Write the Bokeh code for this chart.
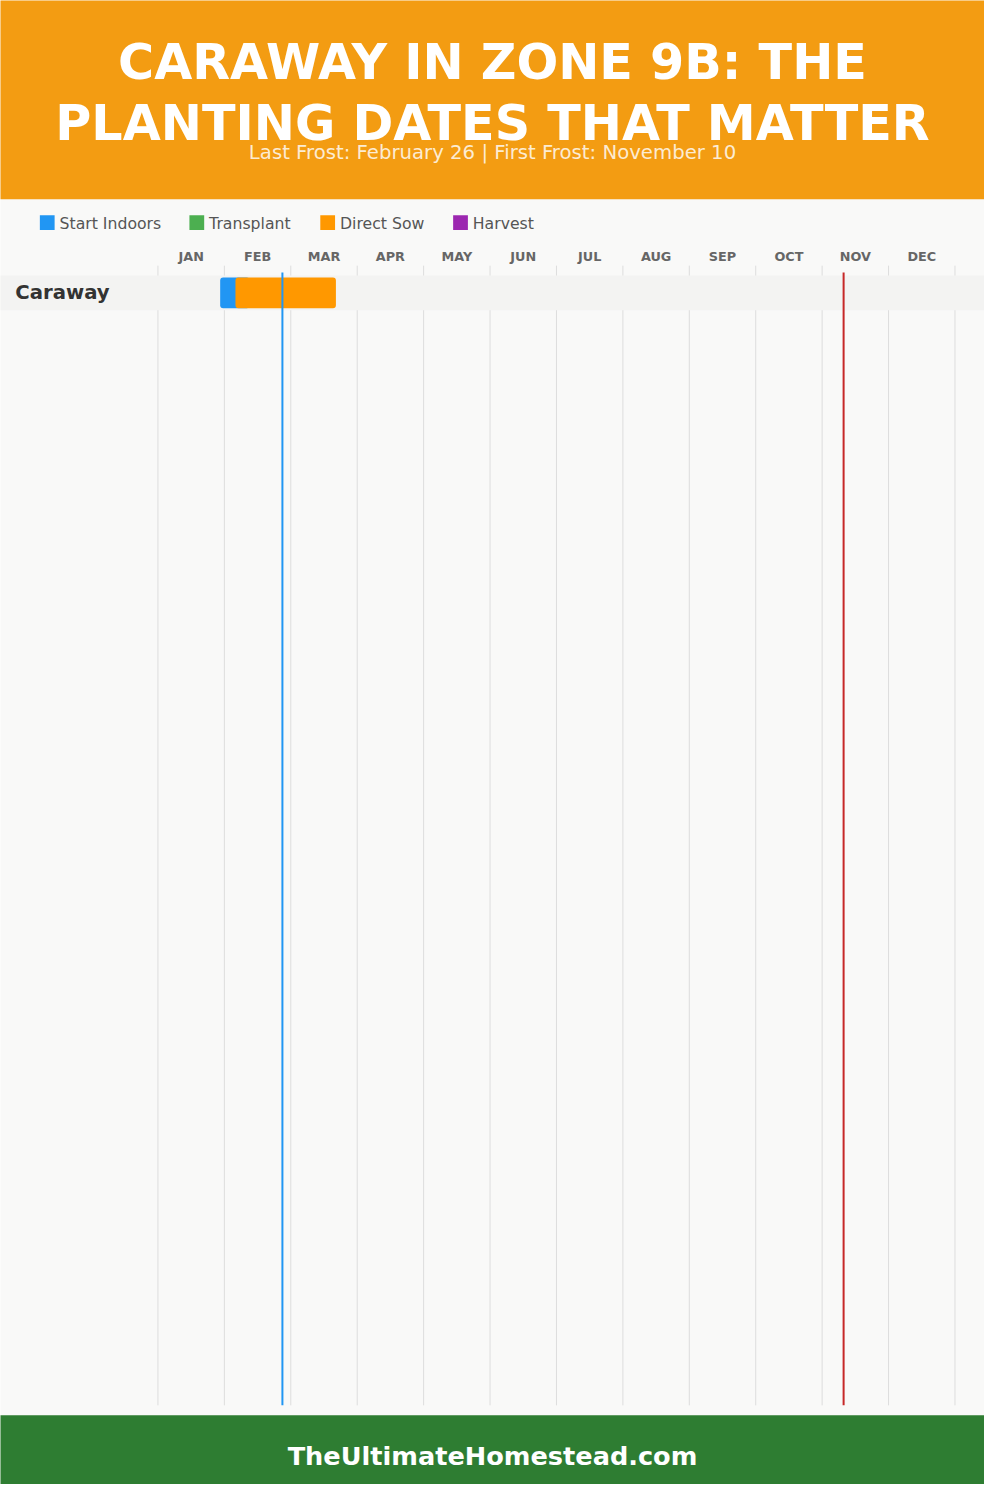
from bokeh.plotting import figure
from bokeh.models import Range1d
from bokeh.embed import file_html
from bokeh.resources import INLINE
from bokeh.core.properties import value

# ---------------- data ----------------
title_lines = ["CARAWAY IN ZONE 9B: THE", "PLANTING DATES THAT MATTER"]
subtitle = "Last Frost: February 26 | First Frost: November 10"
footer_text = "TheUltimateHomestead.com"
months = ["JAN", "FEB", "MAR", "APR", "MAY", "JUN",
          "JUL", "AUG", "SEP", "OCT", "NOV", "DEC"]
legend_labels = ["Start Indoors", "Transplant", "Direct Sow", "Harvest"]
legend_colors = ["#2196f3", "#4caf50", "#ff9800", "#9c27b0"]
crops = ["Caraway"]
# day-of-year values
start_indoors_start = [28.5]
start_indoors_end = [42.0]
direct_sow_start = [35.5]
direct_sow_end = [81.5]
last_frost_day = 57
first_frost_day = 314
days_in_year = 365

# ---------------- layout helpers (reference pixel -> day) ----------------
X0, X1 = 160.0, 970.0
PX_PER_DAY = (X1 - X0) / days_in_year


def dx(px):
    return (px - X0) / PX_PER_DAY


W, H = 984, 1484
S = W / 1000.0  # scale of the 1000x1500 design into the figure


def fs(px):
    return "%.1fpx" % (px * S)


p = figure(width=W, height=H, output_backend="svg", toolbar_location=None,
           x_range=Range1d(dx(0), dx(1000)), y_range=Range1d(1500, 0),
           min_border=0, outline_line_color=None)
p.axis.visible = False
p.grid.visible = False
p.background_fill_color = "#f9f9f8"
p.border_fill_color = "#f9f9f8"

FONT = value("DejaVu Sans")

# header / footer bands
p.quad(left=dx(-20), right=dx(1020), top=-20, bottom=201, color="#f39c12", line_color=None)
p.quad(left=dx(-20), right=dx(1020), top=1430, bottom=1520, color="#2e7d32", line_color=None)

# month grid lines
month_len = days_in_year / 12
bounds = [i * month_len for i in range(13)]
p.segment(x0=bounds, y0=[268] * 13, x1=bounds, y1=[1420] * 13,
          line_color="#dddddd", line_width=1)

# month labels
p.text(x=[(i + 0.5) * month_len for i in range(12)], y=[259] * 12, text=months,
       text_font=FONT, text_font_style="bold", text_font_size=fs(13),
       text_color="#666666", text_align="center", text_baseline="middle")

# row bands and labels
ROW_TOP, ROW_H = 278, 35
row_tops = [ROW_TOP + i * ROW_H for i in range(len(crops))]
row_mid = [t + ROW_H / 2 for t in row_tops]
p.quad(left=[dx(-20)] * len(crops), right=[dx(1020)] * len(crops),
       top=row_tops, bottom=[t + ROW_H for t in row_tops],
       color="#f3f3f2", line_color=None)
p.text(x=[dx(15)] * len(crops), y=row_mid, text=crops, text_font=FONT,
       text_font_style="bold", text_font_size=fs(20), text_color="#333333",
       text_align="left", text_baseline="middle")

# bars
p.quad(left=start_indoors_start, right=start_indoors_end,
       top=[t + 2 for t in row_tops], bottom=[t + 33 for t in row_tops],
       color=legend_colors[0], line_color=None, border_radius=3)
p.quad(left=direct_sow_start, right=direct_sow_end,
       top=[t + 2 for t in row_tops], bottom=[t + 33 for t in row_tops],
       color=legend_colors[2], line_color=None, border_radius=3)

# frost lines
p.segment(x0=[last_frost_day], y0=[275], x1=[last_frost_day], y1=[1420],
          line_color="#2196f3", line_width=2)
p.segment(x0=[first_frost_day], y0=[275], x1=[first_frost_day], y1=[1420],
          line_color="#c62828", line_width=2)

# legend
leg_x = [40, 192, 325, 460]
p.quad(left=[dx(x) for x in leg_x], right=[dx(x + 15) for x in leg_x],
       top=[217] * 4, bottom=[232] * 4, color=legend_colors, line_color=None)
p.text(x=[dx(x + 20) for x in leg_x], y=[225] * 4, text=legend_labels,
       text_font=FONT, text_font_size=fs(16), text_color="#555555",
       text_align="left", text_baseline="middle")

# title & subtitle
p.text(x=[dx(500)] * 2, y=[62, 124], text=title_lines, text_font=FONT,
       text_font_style="bold", text_font_size=fs(50), text_color="white",
       text_align="center", text_baseline="middle")
p.text(x=[dx(500)], y=[154], text=[subtitle], text_font=FONT,
       text_font_size=fs(20), text_color="white", text_alpha=0.82,
       text_align="center", text_baseline="middle")

# footer
p.text(x=[dx(500)], y=[1471], text=[footer_text], text_font=FONT,
       text_font_style="bold", text_font_size=fs(26), text_color="white",
       text_align="center", text_baseline="middle")

open("out.html", "w").write(file_html(p, INLINE))
